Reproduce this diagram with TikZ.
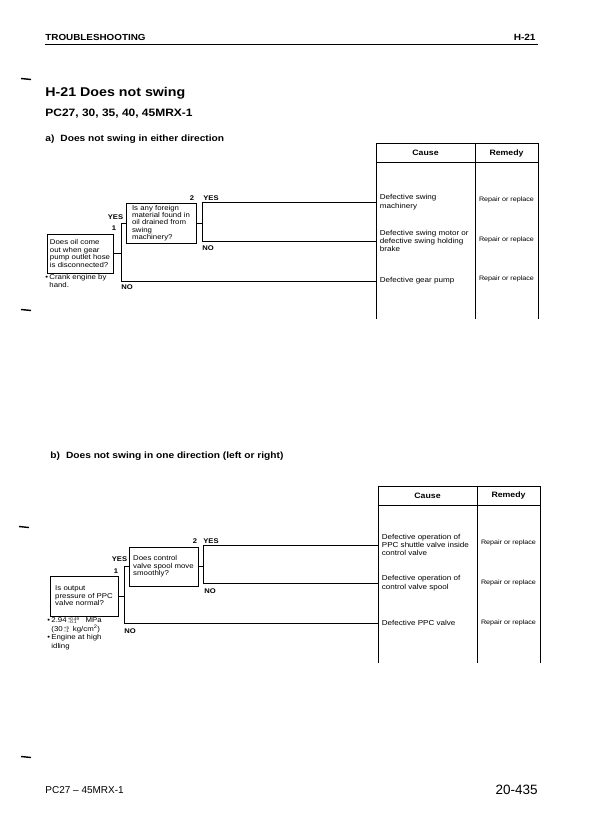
\documentclass[tikz,border=0pt]{standalone}
\usepackage{fontspec}
\setmainfont[FakeStretch=1.12]{Liberation Sans}
\newfontfamily\plainfont{Liberation Sans}
\newcommand{\fs}[2]{\fontsize{#1}{#2}\selectfont}
\newcommand{\pmst}[2]{{\fs{4}{4}\raisebox{2pt}{\rlap{#1}}\raisebox{-1pt}{#2}}}
\begin{document}
\begin{tikzpicture}[x=1pt,y=-1pt,line width=0.8pt,
  every node/.style={inner sep=0pt},
  qbox/.style={draw,line width=0.8pt,align=left,inner xsep=2pt,inner ysep=2pt,font=\fs{7}{7.4}},
  yn/.style={font=\bfseries\fs{6.8}{7}},
  cause/.style={anchor=west,align=left,inner xsep=3.5pt,font=\fs{7.2}{8.3}},
  remedy/.style={font=\fs{6.4}{7}},
  hdr/.style={font=\bfseries\fs{7.8}{8}},
  note/.style={anchor=north west,align=left,font=\fs{7}{8.3}},
  tick/.style={line width=1.4pt},
  seclbl/.style={anchor=base west,font=\bfseries\fs{9.1}{9}}]
\useasboundingbox (0,0) rectangle (596,834);
\fill[white] (0,0) rectangle (596,834);

% page header
\node[anchor=base west,font=\bfseries\fs{8.8}{9}] (hdrL) at (45,41) {TROUBLESHOOTING};
\node[anchor=base east,font=\bfseries\fs{9}{9}] (hdrR) at (536,41) {H-21};
\draw[line width=0.9pt] (45,44.5) -- (538,44.5);

% side ticks
\draw[tick] (21,78.5) -- (31,79.5);
\draw[tick] (21,309.5) -- (31,310.5);
\draw[tick] (19,526.5) -- (29,527.5);
\draw[tick] (21,756.5) -- (31,757.5);

% titles
\node[anchor=base west,font=\bfseries\fs{12.7}{13}] (title) at (45,96.5) {H-21\hspace{4pt}Does not swing};
\node[anchor=base west,font=\bfseries\fs{10.7}{11}] (sub) at (45,117) {PC27, 30, 35, 40, 45MRX-1};
\node[seclbl] (seca) at (45,142) {a)\hspace{6pt}Does not swing in either direction};

% ---------- table a ----------
\draw (376,319) -- (376,143) -- (538,143) -- (538,319);
\draw (475,143) -- (475,319);
\draw (376,162) -- (538,162);
\node[hdr] (cHa) at (425.5,153) {Cause};
\node[hdr] (rHa) at (506.5,153) {Remedy};
\node[cause] (ca1) at (376,202) {Defective swing\\machinery};
\node[cause] (ca2) at (376,241) {Defective swing motor or\\defective swing holding\\brake};
\node[cause] (ca3) at (376,281) {Defective gear pump};
\node[remedy] (ra1) at (506.5,200) {Repair or replace};
\node[remedy] (ra2) at (506.5,240) {Repair or replace};
\node[remedy] (ra3) at (506.5,279) {Repair or replace};

% ---------- flow a ----------
\node[qbox,minimum width=66pt,minimum height=39pt] (qa1) at (80,253.5) {Does oil come\\out when gear\\pump outlet hose\\is disconnected?};
\node[note] (na1) at (45,274) {\makebox[4pt][l]{\textbullet}Crank engine by\\\hspace*{4pt}hand.};
\node[qbox,minimum width=70pt,minimum height=40pt] (qa2) at (161,223) {Is any foreign\\material found in\\oil drained from\\swing\\machinery?};
\coordinate (ja1) at (121,223);
\coordinate (ja1b) at (121,281);
\coordinate (ja2) at (202,202);
\coordinate (ja2b) at (202,241);
\draw (qa1.east) -- (qa1.east -| ja1);
\draw (qa2.west) -- (ja1) -- (ja1b) -- (ca3.west);
\draw (qa2.east) -- (qa2.east -| ja2);
\draw (ca1.west) -- (ja2) -- (ja2b) -- (ca2.west);
\node[yn] (ya1) at (115.5,217) {YES};
\node[yn] (na1n) at (114,228) {1};
\node[yn] (na2n) at (192,198) {2};
\node[yn,anchor=west] (ya2) at (203,198) {YES};
\node[yn,anchor=west] (noa2) at (202,248) {NO};
\node[yn,anchor=west] (noa1) at (121,287) {NO};

% ---------- section b ----------
\node[seclbl] (secb) at (50,458) {b)\hspace{6pt}Does not swing in one direction (left or right)};

\draw (378,663) -- (378,486) -- (540,486) -- (540,663);
\draw (477,486) -- (477,663);
\draw (378,505) -- (540,505);
\node[hdr] (cHb) at (427.5,495.5) {Cause};
\node[hdr] (rHb) at (508.5,495.5) {Remedy};
\node[cause] (cb1) at (378,545) {Defective operation of\\PPC shuttle valve inside\\control valve};
\node[cause] (cb2) at (378,583) {Defective operation of\\control valve spool};
\node[cause] (cb3) at (378,623) {Defective PPC valve};
\node[remedy] (rb1) at (508.5,543) {Repair or replace};
\node[remedy] (rb2) at (508.5,583) {Repair or replace};
\node[remedy] (rb3) at (508.5,623) {Repair or replace};

\node[qbox,minimum width=68pt,minimum height=40pt] (qb1) at (84,596) {Is output\\pressure of PPC\\valve normal?};
\node[note,font=\fs{7}{8.6}] (nb1) at (47,617.5) {\makebox[4pt][l]{\textbullet}2.94\,\pmst{+0.49}{\textendash0.1}\hspace{9pt}MPa\\\hspace*{4pt}(30\,\pmst{+5}{\textendash1}\hspace{4pt}kg/cm\textsuperscript{2})\\\makebox[4pt][l]{\textbullet}Engine at high\\\hspace*{4pt}idling};
\node[qbox,minimum width=69pt,minimum height=39pt] (qb2) at (163.5,566.5) {Does control\\valve spool move\\smoothly?};
\coordinate (jb1) at (124,566.5);
\coordinate (jb1b) at (124,623);
\coordinate (jb2) at (203,545);
\coordinate (jb2b) at (203,583);
\draw (qb1.east) -- (qb1.east -| jb1);
\draw (qb2.west) -- (jb1) -- (jb1b) -- (cb3.west);
\draw (qb2.east) -- (qb2.east -| jb2);
\draw (cb1.west) -- (jb2) -- (jb2b) -- (cb2.west);
\node[yn] (yb1) at (119.5,559) {YES};
\node[yn] (nb1n) at (116,571) {1};
\node[yn] (nb2n) at (195,541) {2};
\node[yn,anchor=west] (yb2) at (203,541) {YES};
\node[yn,anchor=west] (nob2) at (204,591) {NO};
\node[yn,anchor=west] (nob1) at (124,631) {NO};

% footer
\node[anchor=base west,font=\plainfont\fs{10}{10}] (footL) at (45,793) {PC27 \textendash\ 45MRX-1};
\node[anchor=base east,font=\plainfont\fs{13.5}{14}] (footR) at (538,794) {20-435};
\end{tikzpicture}
\end{document}
